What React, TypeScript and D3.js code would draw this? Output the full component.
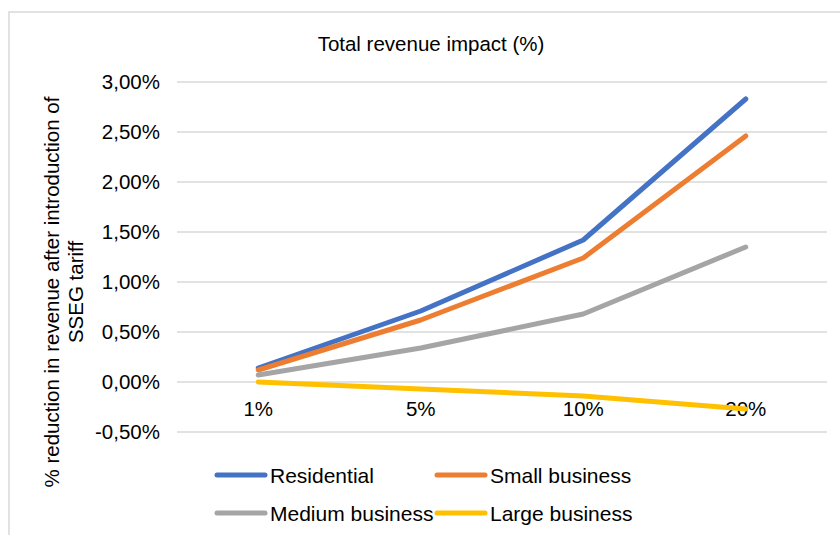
import React from "react";
import * as d3 from "d3";

const categories = ["1%", "5%", "10%", "20%"];
const residential = [0.14, 0.71, 1.42, 2.83];
const smallBusiness = [0.12, 0.62, 1.24, 2.46];
const mediumBusiness = [0.07, 0.34, 0.68, 1.35];
const largeBusiness = [0.0, -0.07, -0.14, -0.27];
const yTicks = [-0.5, 0, 0.5, 1, 1.5, 2, 2.5, 3];
const seriesNames = ["Residential", "Small business", "Medium business", "Large business"];
const seriesColors = ["#4472C4", "#ED7D31", "#A5A5A5", "#FFC000"];

export default function App() {
  const W = 840, H = 535;
  const font = "'Liberation Sans', Arial, sans-serif";
  const x = d3.scaleBand<string>().domain(categories).range([177, 827]);
  const y = d3.scaleLinear().domain([-0.5, 3]).range([432, 82]);
  const fmt = (v: number) => v.toFixed(2).replace(".", ",") + "%";
  const series = [residential, smallBusiness, mediumBusiness, largeBusiness];
  const line = d3
    .line<number>()
    .x((_, i) => (x(categories[i]) as number) + x.bandwidth() / 2)
    .y((d) => y(d));

  const legendPos = [
    { lx: 217, ly: 475 },
    { lx: 437, ly: 475 },
    { lx: 217, ly: 513 },
    { lx: 437, ly: 513 },
  ];

  return (
    <svg width={W} height={H} style={{ position: "absolute", left: 0, top: 0, background: "#fff" }} fontFamily={font}>
      <rect x={9} y={12} width={900} height={600} fill="#fff" stroke="#D9D9D9" strokeWidth={1.5} />
      <text x={431} y={51} textAnchor="middle" fontSize={20.5} fill="#000">
        Total revenue impact (%)
      </text>
      {yTicks.map((t) => (
        <g key={t}>
          <line x1={177} x2={827} y1={y(t)} y2={y(t)} stroke="#D9D9D9" strokeWidth={1.5} />
          <text x={160} y={y(t) + 7} textAnchor="end" fontSize={20.5} fill="#000">
            {fmt(t)}
          </text>
        </g>
      ))}
      {categories.map((c) => (
        <text key={c} x={(x(c) as number) + x.bandwidth() / 2} y={416} textAnchor="middle" fontSize={20.5} fill="#000">
          {c}
        </text>
      ))}
      <g transform="translate(0,292) rotate(-90)">
        <text x={0} y={59} textAnchor="middle" fontSize={20.5} fill="#000">
          % reduction in revenue after introduction of
        </text>
        <text x={0} y={83} textAnchor="middle" fontSize={20.5} fill="#000">
          SSEG tariff
        </text>
      </g>
      {series.map((s, i) => (
        <path key={i} d={line(s) || ""} fill="none" stroke={seriesColors[i]} strokeWidth={5} strokeLinecap="round" strokeLinejoin="round" />
      ))}
      {seriesNames.map((n, i) => (
        <g key={n}>
          <line x1={legendPos[i].lx} x2={legendPos[i].lx + 48} y1={legendPos[i].ly} y2={legendPos[i].ly} stroke={seriesColors[i]} strokeWidth={5} strokeLinecap="round" />
          <text x={legendPos[i].lx + 53} y={legendPos[i].ly + 7.5} fontSize={21} fill="#000">
            {n}
          </text>
        </g>
      ))}
    </svg>
  );
}
